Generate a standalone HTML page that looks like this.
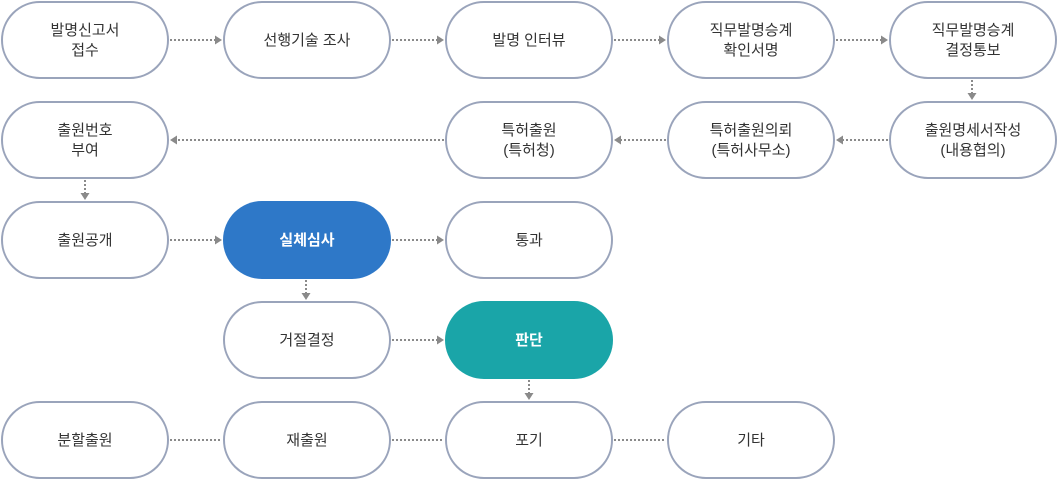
<!DOCTYPE html>
<html><head><meta charset="utf-8"><style>
body{margin:0;background:#fff;width:1058px;height:480px;overflow:hidden}
text{font-family:"Liberation Sans","Noto Sans CJK KR",sans-serif;font-size:15px;fill:#333;text-anchor:middle}
.n{fill:#fff;stroke:#9aa4bb;stroke-width:2}
.l{stroke:#8a8a8a;stroke-width:2;stroke-dasharray:2 2;fill:none}
.a{fill:#8a8a8a}
</style></head><body>
<svg width="1058" height="480" xmlns="http://www.w3.org/2000/svg">
<!-- lines -->
<g>
<line class="l" x1="170" y1="40" x2="216" y2="40"/><polygon class="a" points="222,40 215,35.5 215,44.5"/>
<line class="l" x1="392" y1="40" x2="438" y2="40"/><polygon class="a" points="444,40 437,35.5 437,44.5"/>
<line class="l" x1="614" y1="40" x2="660" y2="40"/><polygon class="a" points="666,40 659,35.5 659,44.5"/>
<line class="l" x1="836" y1="40" x2="882" y2="40"/><polygon class="a" points="888,40 881,35.5 881,44.5"/>
<line class="l" x1="972" y1="80" x2="972" y2="94"/><polygon class="a" points="972,100 967.5,93 976.5,93"/>
<line class="l" x1="888" y1="140" x2="842" y2="140"/><polygon class="a" points="836,140 843,135.5 843,144.5"/>
<line class="l" x1="666" y1="140" x2="620" y2="140"/><polygon class="a" points="614,140 621,135.5 621,144.5"/>
<line class="l" x1="444" y1="140" x2="176" y2="140"/><polygon class="a" points="170,140 177,135.5 177,144.5"/>
<line class="l" x1="85" y1="180" x2="85" y2="194"/><polygon class="a" points="85,200 80.5,193 89.5,193"/>
<line class="l" x1="170" y1="240" x2="216" y2="240"/><polygon class="a" points="222,240 215,235.5 215,244.5"/>
<line class="l" x1="392" y1="240" x2="438" y2="240"/><polygon class="a" points="444,240 437,235.5 437,244.5"/>
<line class="l" x1="306" y1="280" x2="306" y2="294"/><polygon class="a" points="306,300 301.5,293 310.5,293"/>
<line class="l" x1="392" y1="340" x2="438" y2="340"/><polygon class="a" points="444,340 437,335.5 437,344.5"/>
<line class="l" x1="529" y1="380" x2="529" y2="394"/><polygon class="a" points="529,400 524.5,393 533.5,393"/>
<line class="l" x1="170" y1="440" x2="222" y2="440"/>
<line class="l" x1="392" y1="440" x2="444" y2="440"/>
<line class="l" x1="614" y1="440" x2="666" y2="440"/>
</g>
<!-- row 1 -->
<rect class="n" x="2" y="2" width="166" height="76" rx="38"/>
<text x="85" y="35">발명신고서</text><text x="85" y="55">접수</text>
<rect class="n" x="224" y="2" width="166" height="76" rx="38"/>
<text x="307" y="45">선행기술 조사</text>
<rect class="n" x="446" y="2" width="166" height="76" rx="38"/>
<text x="529" y="45">발명 인터뷰</text>
<rect class="n" x="668" y="2" width="166" height="76" rx="38"/>
<text x="751" y="35">직무발명승계</text><text x="751" y="55">확인서명</text>
<rect class="n" x="890" y="2" width="166" height="76" rx="38"/>
<text x="973" y="35">직무발명승계</text><text x="973" y="55">결정통보</text>
<!-- row 2 -->
<rect class="n" x="2" y="102" width="166" height="76" rx="38"/>
<text x="85" y="135">출원번호</text><text x="85" y="155">부여</text>
<rect class="n" x="446" y="102" width="166" height="76" rx="38"/>
<text x="529" y="135">특허출원</text><text x="529" y="155">(특허청)</text>
<rect class="n" x="668" y="102" width="166" height="76" rx="38"/>
<text x="751" y="135">특허출원의뢰</text><text x="751" y="155">(특허사무소)</text>
<rect class="n" x="890" y="102" width="166" height="76" rx="38"/>
<text x="973" y="135">출원명세서작성</text><text x="973" y="155">(내용협의)</text>
<!-- row 3 -->
<rect class="n" x="2" y="202" width="166" height="76" rx="38"/>
<text x="85" y="245">출원공개</text>
<rect x="223" y="201" width="168" height="78" rx="39" fill="#2e78c8"/>
<text x="307" y="245" style="fill:#fff;font-weight:bold">실체심사</text>
<rect class="n" x="446" y="202" width="166" height="76" rx="38"/>
<text x="529" y="245">통과</text>
<!-- row 4 -->
<rect class="n" x="224" y="302" width="166" height="76" rx="38"/>
<text x="307" y="345">거절결정</text>
<rect x="445" y="301" width="168" height="78" rx="39" fill="#1aa5a8"/>
<text x="529" y="345" style="fill:#fff;font-weight:bold">판단</text>
<!-- row 5 -->
<rect class="n" x="2" y="402" width="166" height="76" rx="38"/>
<text x="85" y="445">분할출원</text>
<rect class="n" x="224" y="402" width="166" height="76" rx="38"/>
<text x="307" y="445">재출원</text>
<rect class="n" x="446" y="402" width="166" height="76" rx="38"/>
<text x="529" y="445">포기</text>
<rect class="n" x="668" y="402" width="166" height="76" rx="38"/>
<text x="751" y="445">기타</text>
</svg>
</body></html>
